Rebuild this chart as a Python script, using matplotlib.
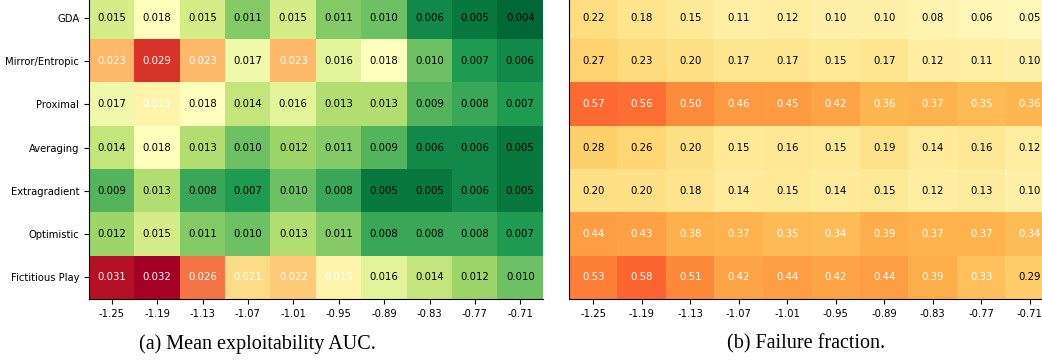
import numpy as np
import matplotlib.pyplot as plt

methods = ["GDA", "Mirror/Entropic", "Proximal", "Averaging",
           "Extragradient", "Optimistic", "Fictitious Play"]
log_lr = ["-1.25", "-1.19", "-1.13", "-1.07", "-1.01",
          "-0.95", "-0.89", "-0.83", "-0.77", "-0.71"]

auc = np.array([
    [0.015, 0.018, 0.015, 0.011, 0.015, 0.011, 0.010, 0.006, 0.005, 0.004],
    [0.023, 0.029, 0.023, 0.017, 0.023, 0.016, 0.018, 0.010, 0.007, 0.006],
    [0.017, 0.019, 0.018, 0.014, 0.016, 0.013, 0.013, 0.009, 0.008, 0.007],
    [0.014, 0.018, 0.013, 0.010, 0.012, 0.011, 0.009, 0.006, 0.006, 0.005],
    [0.009, 0.013, 0.008, 0.007, 0.010, 0.008, 0.005, 0.005, 0.006, 0.005],
    [0.012, 0.015, 0.011, 0.010, 0.013, 0.011, 0.008, 0.008, 0.008, 0.007],
    [0.031, 0.032, 0.026, 0.021, 0.022, 0.019, 0.016, 0.014, 0.012, 0.010],
])

fail = np.array([
    [0.22, 0.18, 0.15, 0.11, 0.12, 0.10, 0.10, 0.08, 0.06, 0.05],
    [0.27, 0.23, 0.20, 0.17, 0.17, 0.15, 0.17, 0.12, 0.11, 0.10],
    [0.57, 0.56, 0.50, 0.46, 0.45, 0.42, 0.36, 0.37, 0.35, 0.36],
    [0.28, 0.26, 0.20, 0.15, 0.16, 0.15, 0.19, 0.14, 0.16, 0.12],
    [0.20, 0.20, 0.18, 0.14, 0.15, 0.14, 0.15, 0.12, 0.13, 0.10],
    [0.44, 0.43, 0.38, 0.37, 0.35, 0.34, 0.39, 0.37, 0.37, 0.34],
    [0.53, 0.58, 0.51, 0.42, 0.44, 0.42, 0.44, 0.39, 0.33, 0.29],
])


def heatmap(ax, data, cmap, vmin, vmax, fmt, show_rows):
    ax.imshow(data, cmap=cmap, vmin=vmin, vmax=vmax, aspect="auto",
              interpolation="nearest")
    # white text on the upper half of the data range
    mid = data.min() + 0.5 * (data.max() - data.min())
    for i in range(data.shape[0]):
        for j in range(data.shape[1]):
            v = data[i, j]
            ax.text(j, i, fmt.format(v), ha="center", va="center",
                    fontsize=7.3, color="white" if v > mid else "black")
    ax.set_xticks(range(len(log_lr)))
    ax.set_xticklabels(log_lr, fontsize=7.2)
    ax.set_yticks(range(len(methods)))
    if show_rows:
        ax.set_yticklabels(methods, fontsize=7.2)
    else:
        ax.set_yticklabels([])
        ax.tick_params(axis="y", length=0)
    ax.spines["top"].set_visible(False)
    ax.spines["right"].set_visible(False)


fig = plt.figure(figsize=(10.42, 3.62), dpi=100)
ax1 = fig.add_axes([89 / 1042, 63 / 362, 454 / 1042, 303 / 362])
ax2 = fig.add_axes([569 / 1042, 63 / 362, 485 / 1042, 303 / 362])

heatmap(ax1, auc, "RdYlGn_r", auc.min(), auc.max(), "{:.3f}", True)
heatmap(ax2, fail, "YlOrRd", 0.0, 1.0, "{:.2f}", False)

fig.text(257 / 1042, 1 - 344 / 362, "(a) Mean exploitability AUC.",
         ha="center", va="center", fontsize=14.5, family="Liberation Serif")
fig.text(806 / 1042, 1 - 344 / 362, "(b) Failure fraction.",
         ha="center", va="center", fontsize=14.5, family="Liberation Serif")

fig.savefig("out.png", dpi=100)
